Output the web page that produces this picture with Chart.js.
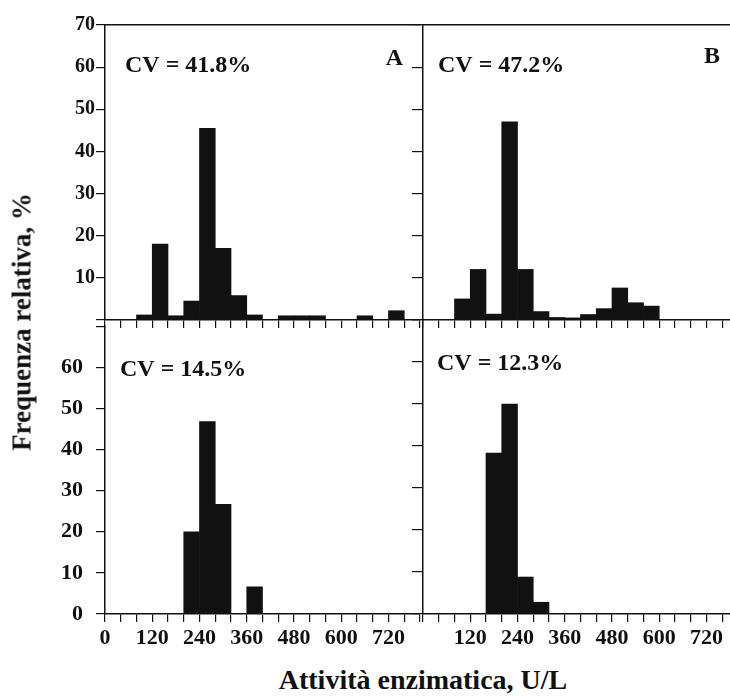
<!DOCTYPE html>
<html lang="it">
<head>
<meta charset="utf-8">
<title>Frequenza relativa</title>
<script src="https://cdn.jsdelivr.net/npm/chart.js@4.4.1/dist/chart.umd.min.js"></script>
<style>
    html, body { margin: 0; padding: 0; background: #fff; overflow: hidden; }
    #figure { position: relative; width: 730px; height: 697px; overflow: hidden; background: #fff; }
    #figure canvas { position: absolute; }
    .axis-title { position: absolute; font-family: "Liberation Serif", serif; font-weight: bold; color: #111; white-space: nowrap; }
    #yTitle { font-size: 27px; left: 22px; top: 322px; transform: translate(-50%, -50%) rotate(-90deg); }
    #xTitle { font-size: 28px; left: 423px; top: 680px; transform: translate(-50%, -50%); }
</style>
</head>
<body>
<div id="figure">
    <canvas id="chartA" width="423" height="335" style="left:0;top:0"></canvas>
    <canvas id="chartB" width="331" height="335" style="left:410px;top:0"></canvas>
    <canvas id="chartC" width="423" height="354" style="left:0;top:300px"></canvas>
    <canvas id="chartD" width="331" height="354" style="left:410px;top:300px"></canvas>
    <div id="yTitle" class="axis-title">Frequenza relativa, %</div>
    <div id="xTitle" class="axis-title">Attività enzimatica, U/L</div>
</div>
<script>
// Bin centres (U/L), bins are 40 U/L wide.
const binCenters = [20, 60, 100, 140, 180, 220, 260, 300, 340, 380, 420, 460, 500, 540, 580, 620, 660, 700, 740, 780];

// Relative frequency (%) per bin.
const valuesA = [0, 0, 1.2, 18, 1, 4.5, 45.5, 17, 5.8, 1.2, 0, 1, 1, 1, 0, 0, 1, 0, 2.2, 0];
const valuesB = [0, 0, 5, 12, 1.4, 47, 12, 2, 0.6, 0.5, 1.3, 2.7, 7.6, 4.1, 3.3, 0, 0, 0, 0, 0];
const valuesC = [0, 0, 0, 0, 0, 20, 46.8, 26.7, 0, 6.6, 0, 0, 0, 0, 0, 0, 0, 0, 0, 0];
const valuesD = [0, 0, 0, 0, 38.3, 50, 8.8, 2.8, 0, 0, 0, 0, 0, 0, 0, 0, 0, 0, 0, 0];

// Tick labels.
const xLabelsLeft = [0, 120, 240, 360, 480, 600, 720];
const xLabelsRight = [120, 240, 360, 480, 600, 720];
const yLabelsUpper = [10, 20, 30, 40, 50, 60, 70];
const yLabelsLower = [0, 10, 20, 30, 40, 50, 60];

const ink = "#111111";
const serif = "'Liberation Serif', 'Times New Roman', serif";

/**
 * Writes the CV value and the panel letter inside the plot area.
 * */
const panelText = {
    id: "panelText",
    afterDatasetsDraw(chart) {
        const {ctx, chartArea} = chart;
        const o = chart.config.options.panel;
        ctx.save();
        ctx.font = "bold 24px " + serif;
        ctx.fillStyle = ink;
        ctx.textAlign = "left";
        ctx.fillText(o.cv, chartArea.left + o.cvX, chartArea.top + o.cvY);
        if (o.tag) {
            ctx.textAlign = "right";
            ctx.fillText(o.tag, chartArea.left + o.tagX, chartArea.top + o.tagY);
        }
        ctx.restore();
    }
};

/**
 * Builds one histogram panel.
 * */
function loadPanel(id, values, panel) {
    const ctx = document.querySelector("#" + id).getContext("2d");

    const scales = {
        x: {
            type: "linear",
            position: "bottom",
            min: 0,
            max: 800,
            offset: false,
            ticks: {
                stepSize: 40,
                maxTicksLimit: 30,
                autoSkip: false,
                maxRotation: 0,
                padding: 3,
                color: ink,
                font: { family: serif, size: 22, weight: "bold" },
                callback: v => (panel.xLabels.includes(v) ? String(v) : "")
            },
            grid: { offset: false, drawOnChartArea: false, tickLength: 8, color: ink, lineWidth: 1.2 },
            border: { color: ink, width: 1.5 },
            afterFit: s => { s.height = panel.upper ? 15 : 40; }
        },
        y: {
            min: 0,
            max: 70,
            ticks: {
                stepSize: 10,
                padding: panel.left ? (panel.upper ? 1 : 13) : 0,
                color: ink,
                font: { family: serif, size: panel.upper ? 20 : 22, weight: "bold" },
                callback: v => (panel.yLabels.includes(v) ? String(v) : "")
            },
            grid: { drawOnChartArea: false, tickLength: panel.left ? 9 : 11, color: ink, lineWidth: 1.2 },
            border: { color: ink, width: 1.5 },
            afterFit: s => { s.width = panel.left ? 105 : 13; }
        }
    };

    // Upper panels are closed by a line on top.
    if (panel.upper) {
        scales.xTop = {
            type: "linear",
            position: "top",
            min: 0,
            max: 800,
            ticks: { display: false },
            grid: { display: false },
            border: { color: ink, width: 1.5 },
            afterFit: s => { s.height = 0; }
        };
    }

    new Chart(ctx, {
        type: "bar",
        data: {
            datasets: [{
                data: binCenters.map((x, i) => ({ x: x, y: values[i] })),
                backgroundColor: ink,
                borderWidth: 0,
                barPercentage: 1,
                categoryPercentage: 1
            }]
        },
        options: {
            responsive: false,
            animation: false,
            events: [],
            layout: { padding: { top: panel.upper ? 25 : 20, left: 0, right: 0, bottom: 0 } },
            plugins: {
                legend: { display: false },
                tooltip: { enabled: false }
            },
            scales: scales,
            panel: panel
        },
        plugins: [panelText]
    });
}

loadPanel("chartA", valuesA, {
    upper: true, left: true, xLabels: [], yLabels: yLabelsUpper,
    cv: "CV = 41.8%", cvX: 20, cvY: 47, tag: "A", tagX: 298, tagY: 40
});
loadPanel("chartB", valuesB, {
    upper: true, left: false, xLabels: [], yLabels: [],
    cv: "CV = 47.2%", cvX: 15, cvY: 47, tag: "B", tagX: 297, tagY: 38
});
loadPanel("chartC", valuesC, {
    upper: false, left: true, xLabels: xLabelsLeft, yLabels: yLabelsLower,
    cv: "CV = 14.5%", cvX: 15, cvY: 50
});
loadPanel("chartD", valuesD, {
    upper: false, left: false, xLabels: xLabelsRight, yLabels: [],
    cv: "CV = 12.3%", cvX: 14, cvY: 50
});
</script>
</body>
</html>
